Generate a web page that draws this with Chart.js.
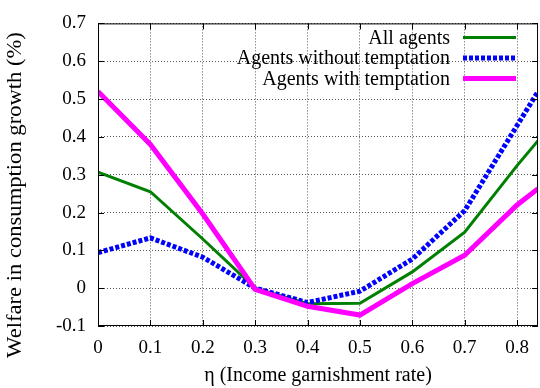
<!DOCTYPE html>
<html>
<head>
<meta charset="utf-8">
<script src="https://cdn.jsdelivr.net/npm/chart.js@4.4.1/dist/chart.umd.min.js"></script>
<style>
  html, body { margin: 0; padding: 0; background: #fff; }
  #wrap { width: 540px; height: 388px; }
</style>
</head>
<body>
<div id="wrap"><canvas id="chartWelfare" width="540" height="388"></canvas></div>
<script>
// values (last x is where the plot is cut at the right border)
var etaValues = [0, 0.1, 0.2, 0.3, 0.4, 0.5, 0.6, 0.7, 0.8, 0.84];
var allAgents = [0.307, 0.255, 0.13, 0.0, -0.041, -0.040, 0.043, 0.148, 0.324, 0.39];
var withoutTemptation = [0.094, 0.133, 0.082, 0.0, -0.038, -0.008, 0.077, 0.205, 0.43, 0.52];
var withTemptation = [0.52, 0.38, 0.196, -0.003, -0.048, -0.071, 0.012, 0.087, 0.22, 0.263];
var seriesNames = ['All agents', 'Agents without temptation', 'Agents with temptation'];
var xTicks = [0, 0.1, 0.2, 0.3, 0.4, 0.5, 0.6, 0.7, 0.8];
var yTicks = [-0.1, 0, 0.1, 0.2, 0.3, 0.4, 0.5, 0.6, 0.7];
var yTitle = 'Welfare in consumption growth (%)';

var serif = "'Liberation Serif', 'Times New Roman', serif";

function points(ys) {
    return etaValues.map(function(x, i) { return { x: x, y: ys[i] }; });
}

// gnuplot-like frame, inward ticks, key and the (stretched) y label
var gnuplotFrame = {
    id: 'gnuplotFrame',
    afterDatasetsDraw: function(chart) {
        var ctx = chart.ctx, a = chart.chartArea;
        var xs = chart.scales.x, ys = chart.scales.y;
        ctx.save();
        ctx.strokeStyle = '#000';
        ctx.lineWidth = 1;
        ctx.setLineDash([]);
        ctx.strokeRect(a.left + 0.5, a.top + 0.5, a.right - a.left - 1, a.bottom - a.top - 1);
        ctx.beginPath();
        xTicks.forEach(function(v) {
            var px = Math.round(xs.getPixelForValue(v)) + 0.5;
            ctx.moveTo(px, a.bottom); ctx.lineTo(px, a.bottom - 6);
            ctx.moveTo(px, a.top); ctx.lineTo(px, a.top + 6);
        });
        yTicks.forEach(function(v) {
            var py = Math.round(ys.getPixelForValue(v)) + 0.5;
            ctx.moveTo(a.left, py); ctx.lineTo(a.left + 6, py);
            ctx.moveTo(a.right, py); ctx.lineTo(a.right - 6, py);
        });
        ctx.stroke();

        // key
        ctx.font = '20px ' + serif;
        ctx.textAlign = 'right';
        ctx.textBaseline = 'middle';
        chart.data.datasets.forEach(function(ds, i) {
            var y = a.top + 14 + i * 20.5;
            ctx.fillStyle = '#000';
            ctx.fillText(ds.label, 450, y + 1);
            ctx.beginPath();
            ctx.strokeStyle = ds.borderColor;
            ctx.lineWidth = ds.borderWidth;
            ctx.setLineDash(ds.borderDash || []);
            ctx.moveTo(463, y);
            ctx.lineTo(516, y);
            ctx.stroke();
        });

        // y label
        ctx.translate(16, 195);
        ctx.rotate(-Math.PI / 2);
        ctx.scale(1.13, 1);
        ctx.textAlign = 'center';
        ctx.fillStyle = '#000';
        ctx.fillText(yTitle, 0, 0);
        ctx.restore();
    }
};

new Chart(document.getElementById('chartWelfare').getContext('2d'), {
    type: 'line',
    data: {
        datasets: [{
            label: seriesNames[0],
            data: points(allAgents),
            borderColor: '#008000',
            borderWidth: 3,
            order: 3
        }, {
            label: seriesNames[1],
            data: points(withoutTemptation),
            borderColor: '#0000ff',
            borderWidth: 5,
            borderDash: [4, 2],
            order: 2
        }, {
            label: seriesNames[2],
            data: points(withTemptation),
            borderColor: '#ff00ff',
            borderWidth: 5,
            order: 1
        }]
    },
    options: {
        responsive: false,
        animation: false,
        layout: { padding: { top: 13, right: 1, left: 0, bottom: 0 } },
        elements: {
            point: { radius: 0 },
            line: { tension: 0, borderCapStyle: 'butt', borderJoinStyle: 'miter' }
        },
        plugins: {
            legend: { display: false },
            tooltip: { enabled: false }
        },
        scales: {
            x: {
                type: 'linear',
                min: 0,
                max: 0.84,
                afterBuildTicks: function(s) { s.ticks = xTicks.map(function(v) { return { value: v }; }); },
                afterFit: function(s) { s.height = 62; },
                ticks: {
                    color: '#000',
                    font: { family: serif, size: 19 },
                    padding: 11,
                    maxRotation: 0,
                    callback: function(v) { return String(Math.round(v * 10) / 10); }
                },
                grid: { color: '#555', drawTicks: false },
                border: { display: false, dash: [1, 2] },
                title: {
                    display: true,
                    text: 'η (Income garnishment rate)',
                    color: '#000',
                    font: { family: serif, size: 20 },
                    padding: { top: 0, bottom: 0 }
                }
            },
            y: {
                min: -0.1,
                max: 0.7,
                afterBuildTicks: function(s) { s.ticks = yTicks.map(function(v) { return { value: v }; }); },
                afterFit: function(s) { s.width = 98; },
                ticks: {
                    color: '#000',
                    font: { family: serif, size: 19 },
                    padding: 12,
                    callback: function(v) { return String(Math.round(v * 10) / 10); }
                },
                grid: { color: '#555', drawTicks: false },
                border: { display: false, dash: [1, 2] },
                title: { display: false }
            }
        }
    },
    plugins: [gnuplotFrame]
});
</script>
</body>
</html>
